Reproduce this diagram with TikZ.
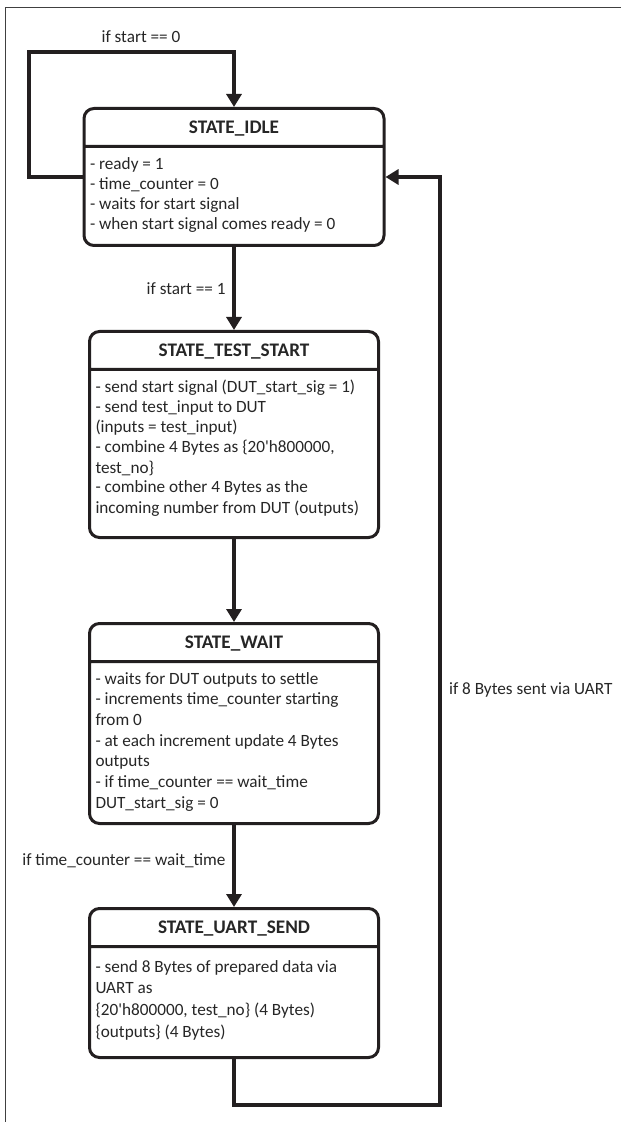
\documentclass[tikz,border=0pt]{standalone}
\usepackage{fontspec}
\setmainfont{Carlito}
\usetikzlibrary{shapes.multipart,arrows.meta}
\definecolor{linecol}{HTML}{231F20}

\begin{document}
\begin{tikzpicture}
[x=0.5pt,y=-0.5pt,
state/.style={rectangle split,rectangle split parts=2,anchor=north,
  draw=linecol,line width=1.5pt,rounded corners=5pt,
  inner xsep=3pt,inner ysep=0pt,text=black!85,
  font=\fontsize{8.6}{10}\selectfont},
title/.style={font=\fontsize{9.6}{10}\selectfont\bfseries},
flow/.style={draw=linecol,line width=1.8pt,
  -{Triangle[width=7.5pt,length=6.5pt]}},
guard/.style={text=black!85,font=\fontsize{8.6}{10}\selectfont},
frame/.style={draw=black!75,line width=0.5pt}]
\useasboundingbox (0,0) rectangle (621,1122);
\draw[frame] (5,1122) |- (621,8);

% states
\node[state] (idle) at (234,107)
{\fontsize{9.6}{10}\selectfont\bfseries\rule[-5.7pt]{0pt}{17.5pt}STATE\_IDLE
\nodepart{second}\parbox[t][48pt][t]{144pt}{\raggedright
\rule{0pt}{11pt}- ready = 1\\
- time\_counter = 0\\
- waits for start signal\\
- when start signal comes ready = 0}};
\node[state] (test) at (234,330)
{\fontsize{9.6}{10}\selectfont\bfseries\rule[-5.7pt]{0pt}{17.5pt}STATE\_TEST\_START
\nodepart{second}\parbox[t][82.5pt][t]{138.5pt}{\raggedright
\rule{0pt}{11pt}- send start signal (DUT\_start\_sig = 1)\\
- send test\_input to DUT\\
(inputs = test\_input)\\
- combine 4 Bytes as \{20\textquotesingle h800000,\\
test\_no\}\\
- combine other 4 Bytes as the\\
incoming number from DUT (outputs)}};
\node[state] (wait) at (234,622)
{\fontsize{9.6}{10}\selectfont\bfseries\rule[-5.7pt]{0pt}{17.5pt}STATE\_WAIT
\nodepart{second}\parbox[t][79.5pt][t]{138.5pt}{\raggedright
\baselineskip=10.35pt
\rule{0pt}{10.5pt}- waits for DUT outputs to settle\\
- increments time\_counter starting\\
from 0\\
- at each increment update 4 Bytes\\
outputs\\
- if time\_counter == wait\_time\\
DUT\_start\_sig = 0}};
\node[state] (uart) at (234,907)
{\fontsize{9.6}{10}\selectfont\bfseries\rule[-5.7pt]{0pt}{17.5pt}STATE\_UART\_SEND
\nodepart{second}\parbox[t][54pt][t]{138.5pt}{\raggedright
\baselineskip=10.85pt
\rule{0pt}{12pt}- send 8 Bytes of prepared data via\\
UART as\\
\{20\textquotesingle h800000, test\_no\} (4 Bytes)\\
\{outputs\} (4 Bytes)}};

% transitions
\coordinate (loopcorner) at (29,52);
\coordinate (backcorner) at (440,1105);
\draw[flow] (idle.west) -| (loopcorner) -| (idle.north);
\node[guard] (g0) at (141,37) {if start == 0};
\draw[flow] (idle.south) -- node[guard,left,pos=0.5] (g1) {if start == 1} (test.north);
\draw[flow] (test.south) -- (wait.north);
\draw[flow] (wait.south) -- node[guard,left,pos=0.44] (g2) {if time\_counter == wait\_time} (uart.north);
\draw[flow] (uart.south) |- (backcorner) |- (idle.east);
\node[guard,right] (g3) at (442,690) {if 8 Bytes sent via UART};
\end{tikzpicture}
\end{document}
